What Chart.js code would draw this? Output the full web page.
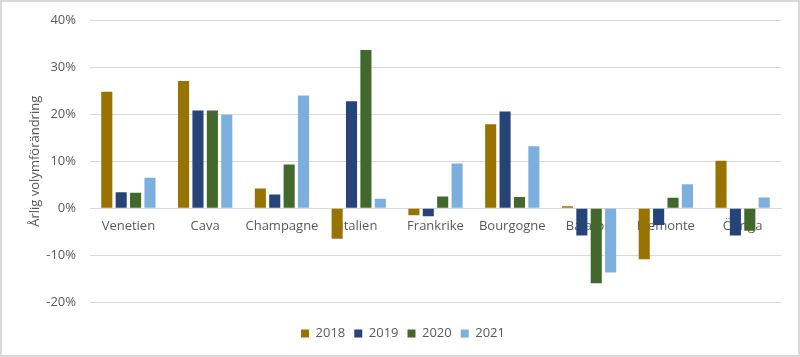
<!DOCTYPE html>
<html>
<head>
<meta charset="utf-8">
<script src="https://cdn.jsdelivr.net/npm/chart.js@4/dist/chart.umd.min.js"></script>
<style>
  html, body { margin: 0; padding: 0; background: #fff; }
  #wrap { width: 800px; height: 357px; position: relative; }
</style>
</head>
<body>
<div id="wrap"><canvas id="c" width="800" height="357"></canvas></div>
<script>
const categories = ['Venetien', 'Cava', 'Champagne', 'Italien', 'Frankrike', 'Bourgogne', 'Balaton', 'Piemonte', 'Övriga'];
const seriesNames = ['2018', '2019', '2020', '2021'];
const values2018 = [24.8, 27.1, 4.2, -6.5, -1.5, 17.9, 0.4, -10.9, 10.1];
const values2019 = [3.4, 20.8, 2.9, 22.8, -1.7, 20.6, -5.8, -3.6, -5.8];
const values2020 = [3.3, 20.8, 9.3, 33.7, 2.5, 2.4, -16.0, 2.2, -4.8];
const values2021 = [6.5, 19.9, 24.0, 2.0, 9.5, 13.2, -13.7, 5.1, 2.3];
const yTicks = [-20, -10, 0, 10, 20, 30, 40];
const axisTitle = 'Årlig volymförändring';

const colors = ['#997300', '#264478', '#43682b', '#7cafdd'];
const allValues = [values2018, values2019, values2020, values2021];
const FONT = "'Open Sans', sans-serif";
const GRAY = '#595959';

const framePlugin = {
  id: 'frame',
  afterDraw(chart) {
    const ctx = chart.ctx;
    ctx.save();
    ctx.strokeStyle = '#d9d9d9';
    ctx.lineWidth = 2;
    ctx.strokeRect(1, 1, chart.width - 2, chart.height - 2);
    ctx.restore();
  }
};

new Chart(document.getElementById('c'), {
  type: 'bar',
  data: {
    labels: categories,
    datasets: seriesNames.map((name, i) => ({
      label: name,
      data: allValues[i],
      backgroundColor: colors[i],
      borderWidth: 0,
      categoryPercentage: 0.75,
      barPercentage: 0.77
    }))
  },
  options: {
    responsive: false,
    animation: false,
    devicePixelRatio: 1,
    layout: { padding: { left: 25, right: 19, top: 10, bottom: 7 } },
    plugins: {
      legend: {
        position: 'bottom',
        title: {
          display: true,
          text: '',
          padding: { top: 10, bottom: 0 },
          font: { size: 5 }
        },
        labels: {
          boxWidth: 8,
          boxHeight: 8,
          padding: 9,
          color: GRAY,
          font: { family: FONT, size: 13 }
        }
      },
      tooltip: { enabled: false }
    },
    scales: {
      x: {
        position: { y: 0 },
        grid: { display: false, drawTicks: false },
        border: { display: true, color: '#d9d9d9', width: 1 },
        ticks: {
          color: GRAY,
          padding: 10,
          maxRotation: 0,
          autoSkip: false,
          font: { family: FONT, size: 13 }
        }
      },
      y: {
        min: -20,
        max: 40,
        afterBuildTicks(scale) { scale.ticks = yTicks.map(v => ({ value: v })); },
        afterFit(scale) { scale.width = 65; },
        grid: { color: '#d9d9d9', lineWidth: 1, drawTicks: false },
        border: { display: false },
        ticks: {
          color: GRAY,
          padding: 14,
          font: { family: FONT, size: 13, lineHeight: 1 },
          callback: v => v + '%'
        },
        title: {
          display: true,
          text: axisTitle,
          color: GRAY,
          padding: { top: 2, bottom: 0 },
          font: { family: FONT, size: 13 }
        }
      }
    }
  },
  plugins: [framePlugin]
});
</script>
</body>
</html>
